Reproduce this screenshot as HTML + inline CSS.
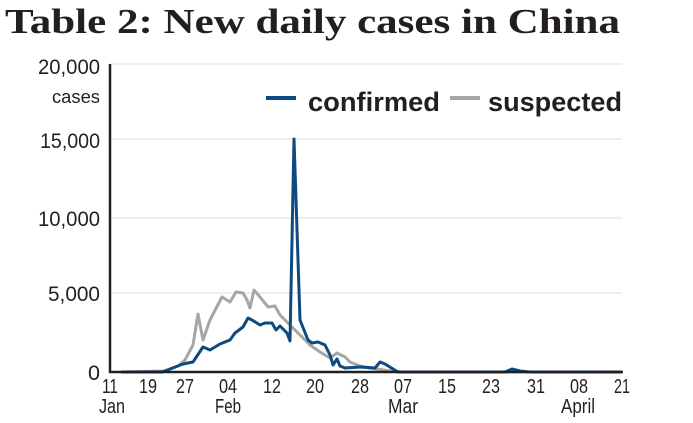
<!DOCTYPE html>
<html><head><meta charset="utf-8"><style>
html,body{margin:0;padding:0;background:#fff;}
svg{display:block;}
</style></head><body>
<svg width="693" height="423" viewBox="0 0 693 423" xmlns="http://www.w3.org/2000/svg">
<text x="5" y="33" font-family="Liberation Serif, serif" font-weight="bold" font-size="35" fill="#231f20" textLength="615" lengthAdjust="spacingAndGlyphs">Table 2:  New daily cases in China</text>
<g stroke="#dcdcdc" stroke-width="1">
<line x1="110" y1="64" x2="622" y2="64"/>
<line x1="110" y1="139" x2="622" y2="139"/>
<line x1="110" y1="218" x2="622" y2="218"/>
<line x1="110" y1="293" x2="622" y2="293"/>
</g>
<g font-family="Liberation Sans, sans-serif" font-size="21" fill="#231f20" text-anchor="end">
<text x="100" y="74" textLength="62" lengthAdjust="spacingAndGlyphs">20,000</text>
<text x="100" y="103" font-size="18" textLength="48" lengthAdjust="spacingAndGlyphs">cases</text>
<text x="100" y="148" textLength="60" lengthAdjust="spacingAndGlyphs">15,000</text>
<text x="100" y="226" textLength="62" lengthAdjust="spacingAndGlyphs">10,000</text>
<text x="100" y="301" textLength="52" lengthAdjust="spacingAndGlyphs">5,000</text>
<text x="100" y="380" textLength="12" lengthAdjust="spacingAndGlyphs">0</text>
</g>
<g font-family="Liberation Sans, sans-serif" font-size="20" fill="#231f20" text-anchor="middle">
<text x="110" y="393" textLength="16" lengthAdjust="spacingAndGlyphs">11</text><text x="148" y="393" textLength="18" lengthAdjust="spacingAndGlyphs">19</text><text x="185" y="393" textLength="18" lengthAdjust="spacingAndGlyphs">27</text>
<text x="228" y="393" textLength="18" lengthAdjust="spacingAndGlyphs">04</text><text x="272" y="393" textLength="18" lengthAdjust="spacingAndGlyphs">12</text><text x="315" y="393" textLength="18" lengthAdjust="spacingAndGlyphs">20</text>
<text x="360" y="393" textLength="18" lengthAdjust="spacingAndGlyphs">28</text><text x="403" y="393" textLength="18" lengthAdjust="spacingAndGlyphs">07</text><text x="447" y="393" textLength="18" lengthAdjust="spacingAndGlyphs">15</text>
<text x="491" y="393" textLength="18" lengthAdjust="spacingAndGlyphs">23</text><text x="536" y="393" textLength="18" lengthAdjust="spacingAndGlyphs">31</text><text x="579" y="393" textLength="18" lengthAdjust="spacingAndGlyphs">08</text>
<text x="622" y="393" textLength="16" lengthAdjust="spacingAndGlyphs">21</text>
<text x="112" y="413" textLength="26" lengthAdjust="spacingAndGlyphs">Jan</text><text x="228" y="413" textLength="26" lengthAdjust="spacingAndGlyphs">Feb</text><text x="403" y="413" textLength="30" lengthAdjust="spacingAndGlyphs">Mar</text><text x="578" y="413" textLength="34" lengthAdjust="spacingAndGlyphs">April</text>
</g>
<polyline fill="none" stroke="#a6a6a6" stroke-width="3" stroke-linejoin="round" points="121,372 165,371 178,366 185,360 193,345 198,314 203,340 210,320 222,297 230,302 236,292 243,293 247,300 250,308 254,290 260,297 268,307 275,306 280,315 290,325 300,335 310,345 320,352 330,358 337,353 345,357 350,362 360,366 370,368 390,371 400,372 622,372"/>
<polyline fill="none" stroke="#0d4a80" stroke-width="3" stroke-linejoin="round" points="121,372 162,372 170,369 183,364 193,362 203,347 210,350 220,344 230,340 235,333 243,327 248,318 252,320 260,325 265,323 272,323 276,330 280,326 287,333 290,341 294,139 300,320 308,340 312,343 318,342 325,345 330,355 333,365 337,359 340,366 345,368 360,367 375,368 380,362 385,364 398,372 505,372 512,369 520,371 530,372 622,372"/>
<line x1="110" y1="64" x2="110" y2="373" stroke="#231f20" stroke-width="2.5"/>
<line x1="109" y1="372" x2="623" y2="372" stroke="#231f20" stroke-width="2.5"/>
<line x1="266" y1="98" x2="296" y2="98" stroke="#0d4a80" stroke-width="4"/>
<line x1="450" y1="98" x2="480" y2="98" stroke="#a6a6a6" stroke-width="4"/>
<g font-family="Liberation Sans, sans-serif" font-weight="bold" font-size="27" fill="#231f20">
<text x="308" y="111" textLength="132" lengthAdjust="spacingAndGlyphs">confirmed</text>
<text x="488" y="111" textLength="134" lengthAdjust="spacingAndGlyphs">suspected</text>
</g>
</svg>
</body></html>
